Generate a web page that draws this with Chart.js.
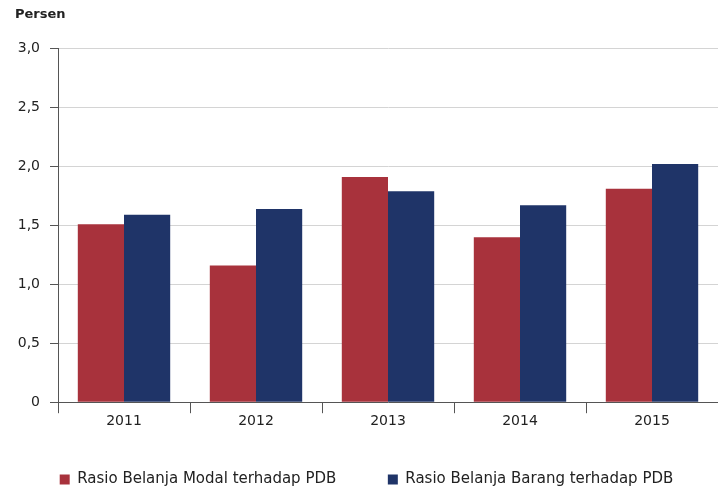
<!DOCTYPE html>
<html>
<head>
<meta charset="utf-8">
<script src="https://cdn.jsdelivr.net/npm/chart.js@4"></script>
<style>
  html, body { margin: 0; padding: 0; background: #fff; }
  #wrap { width: 718px; height: 490px; }
</style>
</head>
<body>
<div id="wrap"><canvas id="bar" width="718" height="490"></canvas></div>
<script>
let years = ["2011", "2012", "2013", "2014", "2015"];
let modal = [1.51, 1.16, 1.91, 1.40, 1.81];
let barang = [1.59, 1.64, 1.79, 1.67, 2.02];
let seriesNames = ["Rasio Belanja Modal terhadap PDB", "Rasio Belanja Barang terhadap PDB"];

let red = "#a8323c";
let blue = "#1f3468";
let fontName = "'DejaVu Sans', sans-serif";

let ctx = document.getElementById("bar").getContext("2d");
let barChart = new Chart(ctx, {
    type: "bar",
    data: {
        labels: years,
        datasets: [{
            label: seriesNames[0],
            backgroundColor: red,
            data: modal
        }, {
            label: seriesNames[1],
            backgroundColor: blue,
            data: barang
        }]
    },
    options: {
        responsive: false,
        animation: false,
        layout: { padding: { left: 15, right: 0, top: 0, bottom: -7 } },
        datasets: {
            bar: { categoryPercentage: 0.7, barPercentage: 1.0 }
        },
        scales: {
            x: {
                grid: {
                    offset: true,
                    drawOnChartArea: false,
                    drawTicks: true,
                    tickLength: 11,
                    color: "#555"
                },
                border: { color: "#555", width: 1 },
                ticks: {
                    color: "#222",
                    font: { family: fontName, size: 14 },
                    padding: 0
                }
            },
            y: {
                min: 0,
                max: 3,
                afterFit: function (scale) { scale.width = 43; },
                grid: {
                    color: "#d4d4d4",
                    tickColor: "#555",
                    tickLength: 8
                },
                border: { color: "#555", width: 1 },
                ticks: {
                    stepSize: 0.5,
                    color: "#222",
                    padding: 10,
                    font: { family: fontName, size: 14 },
                    callback: function (v) {
                        return v === 0 ? "0" : v.toFixed(1).replace(".", ",");
                    }
                }
            }
        },
        plugins: {
            title: {
                display: true,
                text: "Persen",
                align: "start",
                color: "#222",
                font: { family: fontName, size: 13, weight: "bold" },
                padding: { top: 7, bottom: 26 }
            },
            legend: {
                position: "bottom",
                labels: {
                    boxWidth: 10,
                    boxHeight: 10,
                    padding: 42,
                    color: "#222",
                    font: { family: fontName, size: 15 },
                    generateLabels: function (chart) {
                        let items = Chart.defaults.plugins.legend.labels.generateLabels(chart);
                        // a bit more room between the two entries
                        items[0].text = items[0].text + "\u00a0\u00a0";
                        return items;
                    }
                }
            },
            tooltip: { enabled: false }
        }
    }
});
</script>
</body>
</html>
